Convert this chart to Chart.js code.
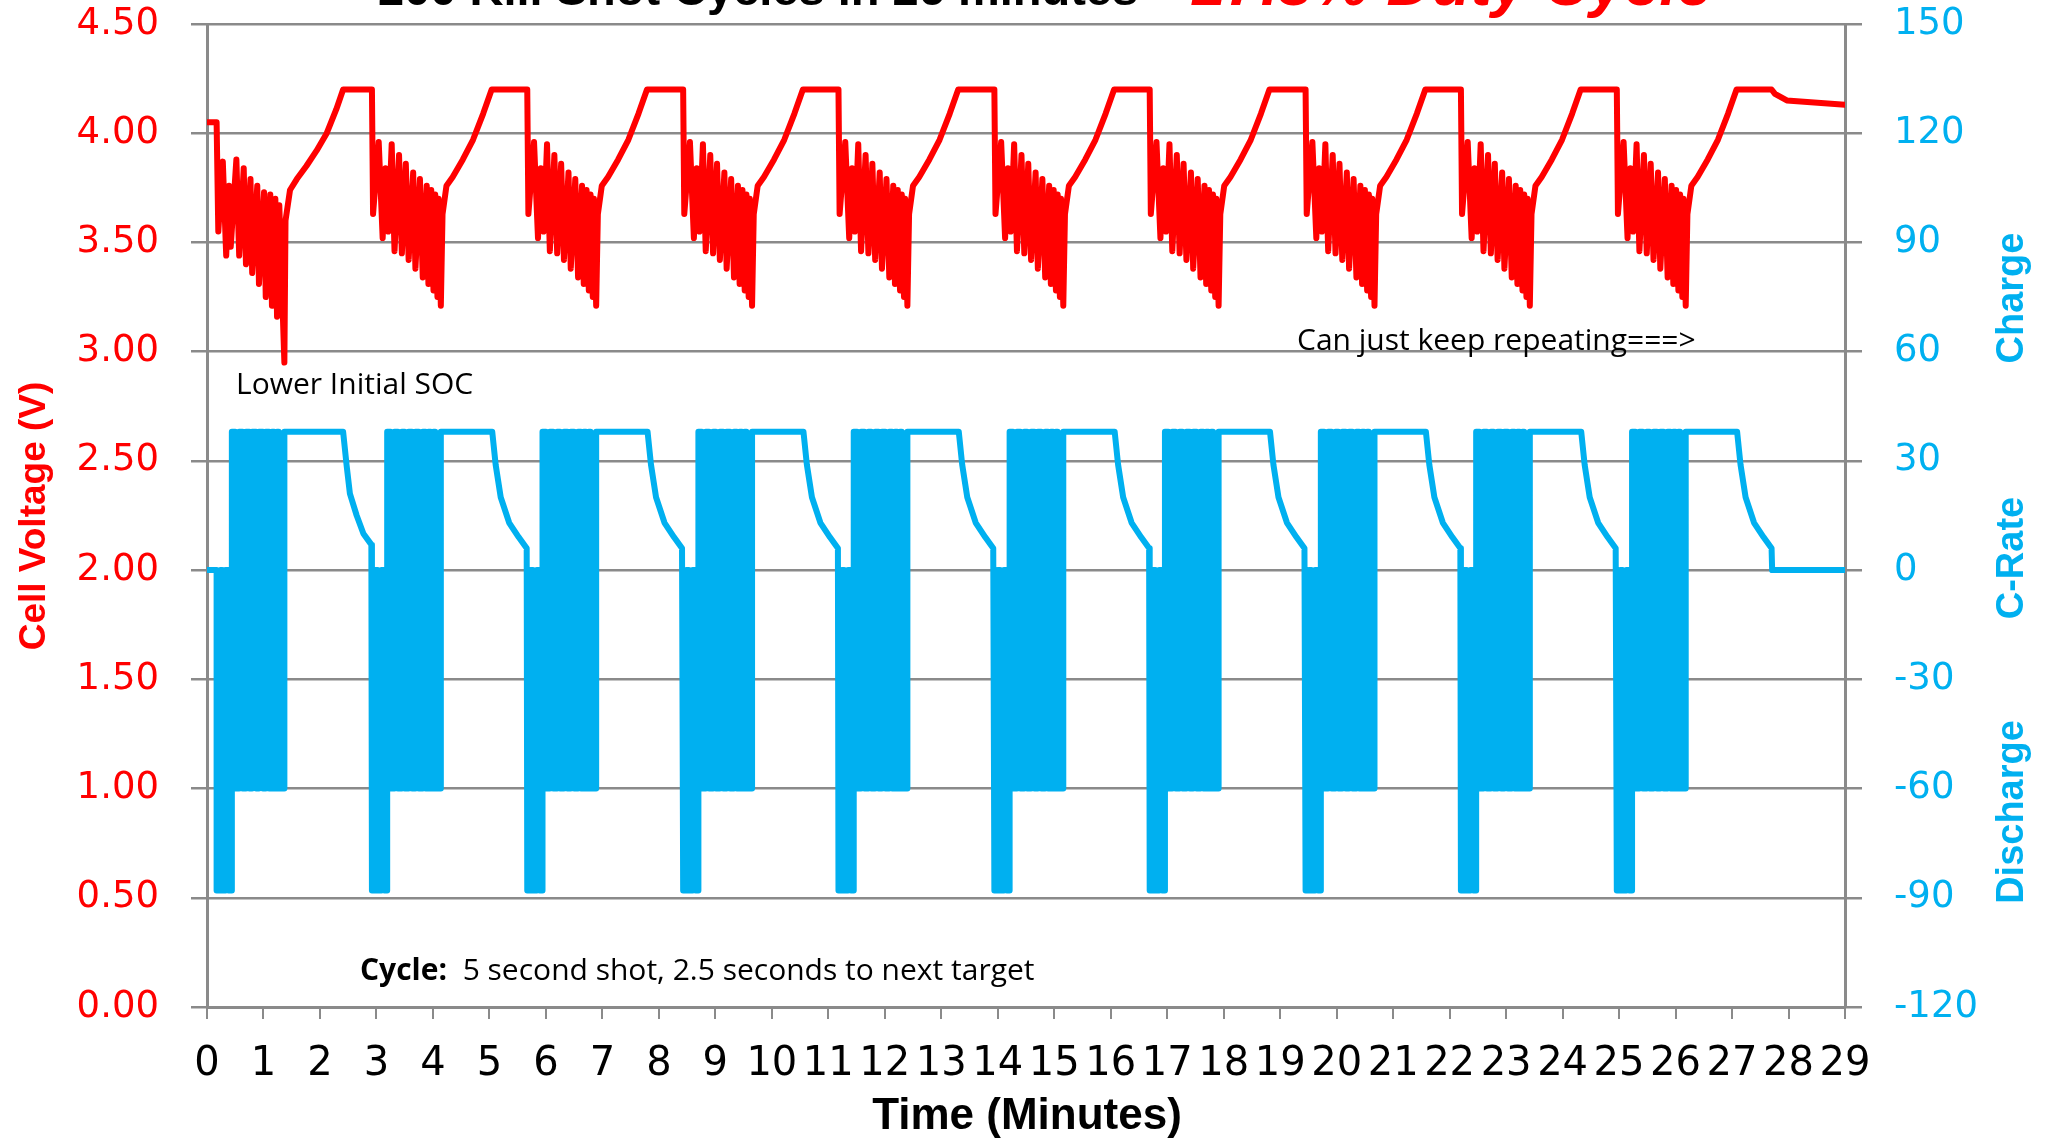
<!DOCTYPE html>
<html lang="en">
<head>
  <meta charset="UTF-8" />
  <title>Kill Shot Cycles</title>
  <script src="https://cdn.jsdelivr.net/npm/chart.js@4.4.0/dist/chart.umd.min.js"></script>
  <style>
    html, body { margin: 0; padding: 0; background: #fff; overflow: hidden; }
    canvas { display: block; }
  </style>
</head>
<body>
  <canvas id="cycleChart" width="2054" height="1139"></canvas>

  <script>
    // minute at which each discharge block starts (10 cycles)
    const cycleStart = [0.17, 2.92, 5.67, 8.43, 11.18, 13.94, 16.69, 19.45, 22.20, 24.96];

    // cell voltage, first cycle (lower initial SOC): [minutes after cycle start, volts]
    const voltsFirst = [
      [0.00, 4.05], [0.03, 3.55], [0.11, 3.87], [0.17, 3.44], [0.22, 3.76], [0.25, 3.48],
      [0.35, 3.88], [0.40, 3.44], [0.48, 3.84], [0.52, 3.40], [0.60, 3.79], [0.63, 3.36],
      [0.72, 3.76], [0.75, 3.31], [0.84, 3.73], [0.87, 3.25], [0.95, 3.72], [0.98, 3.21],
      [1.04, 3.70], [1.07, 3.16], [1.11, 3.67], [1.20, 2.95], [1.22, 3.60], [1.30, 3.74],
      [1.42, 3.79], [1.59, 3.85], [1.77, 3.92], [1.95, 4.00], [2.12, 4.11], [2.24, 4.20]
    ];
    // cell voltage, repeated cycles 2-10
    const voltsCycle = [
      [0.00, 4.20], [0.02, 3.63], [0.12, 3.96], [0.19, 3.52], [0.24, 3.84], [0.29, 3.55],
      [0.35, 3.95], [0.40, 3.46], [0.48, 3.90], [0.53, 3.45], [0.60, 3.86], [0.65, 3.42],
      [0.73, 3.82], [0.77, 3.38], [0.85, 3.79], [0.90, 3.34], [0.97, 3.76], [1.00, 3.31],
      [1.05, 3.74], [1.09, 3.28], [1.12, 3.72], [1.16, 3.25], [1.18, 3.70], [1.22, 3.21],
      [1.25, 3.63], [1.32, 3.76], [1.43, 3.80], [1.61, 3.88], [1.79, 3.97], [1.97, 4.09],
      [2.12, 4.20]
    ];
    // absolute minutes before the first cycle and after the last one
    const voltsLead = [[0.00, 4.05]];
    const voltsTail = [[27.70, 4.20], [27.76, 4.18], [27.97, 4.15], [29.00, 4.13]];

    // C-rate, first cycle: [minutes after cycle start, C-rate]
    const rateFirst = [
      [0.00, -88], [0.07, -88], [0.07, 0], [0.10, 0], [0.10, -88], [0.16, -88], [0.16, 0],
      [0.21, 0], [0.21, -88], [0.27, -88], [0.27, 38], [0.33, 38], [0.33, -60], [0.40, -60],
      [0.40, 38], [0.46, 38], [0.46, -60], [0.52, -60], [0.52, 38], [0.58, 38], [0.58, -60],
      [0.63, -60], [0.63, 38], [0.70, 38], [0.70, -60], [0.75, -60], [0.75, 38], [0.82, 38],
      [0.82, -60], [0.87, -60], [0.87, 38], [0.93, 38], [0.93, -60], [0.98, -60], [0.98, 38],
      [1.02, 38], [1.02, -60], [1.07, -60], [1.07, 38], [1.10, 38], [1.10, -60], [1.20, -60],
      [1.20, 38], [2.24, 38], [2.30, 29], [2.36, 21], [2.48, 15], [2.60, 10], [2.74, 7]
    ];
    // C-rate, repeated cycles 2-10
    const rateCycle = [
      [0.00, -88], [0.06, -88], [0.06, 0], [0.10, 0], [0.10, -88], [0.17, -88], [0.17, 0],
      [0.22, 0], [0.22, -88], [0.27, -88], [0.27, 38], [0.33, 38], [0.33, -60], [0.40, -60],
      [0.40, 38], [0.46, 38], [0.46, -60], [0.53, -60], [0.53, 38], [0.58, 38], [0.58, -60],
      [0.65, -60], [0.65, 38], [0.71, 38], [0.71, -60], [0.77, -60], [0.77, 38], [0.83, 38],
      [0.83, -60], [0.90, -60], [0.90, 38], [0.95, 38], [0.95, -60], [1.00, -60], [1.00, 38],
      [1.04, 38], [1.04, -60], [1.09, -60], [1.09, 38], [1.12, 38], [1.12, -60], [1.22, -60],
      [1.22, 38], [2.13, 38], [2.19, 29], [2.28, 20], [2.43, 13], [2.60, 9], [2.74, 6]
    ];
    const rateLead = [[0.00, 0], [0.17, 0]];
    const rateTail = [[27.71, 0], [29.00, 0]];

    const title = '200 Kill Shot Cycles in 26 minutes – ';
    const titleRed = '17.3% Duty Cycle';

    function buildSeries(lead, first, cycle, tail) {
      const pts = lead.map(([t, v]) => ({ x: t, y: v }));
      cycleStart.forEach((start, i) => {
        (i === 0 ? first : cycle).forEach(([t, v]) => pts.push({ x: start + t, y: v }));
      });
      tail.forEach(([t, v]) => pts.push({ x: t, y: v }));
      return pts;
    }

    const voltage = buildSeries(voltsLead, voltsFirst, voltsCycle, voltsTail);
    const cRate = buildSeries(rateLead, rateFirst, rateCycle, rateTail);

    const RED = '#ff0000';
    const BLUE = '#00b0f0';
    const GRID = '#8a8a8a';

    function rotated(ctx, text, x, y, font, color) {
      ctx.save();
      ctx.translate(x, y);
      ctx.rotate(-Math.PI / 2);
      ctx.font = font;
      ctx.fillStyle = color;
      ctx.textAlign = 'center';
      ctx.textBaseline = 'middle';
      ctx.fillText(text, 0, 0);
      ctx.restore();
    }

    // titles and notes drawn on top of the chart
    const textLayer = {
      id: 'textLayer',
      afterDraw(chart) {
        const ctx = chart.ctx;
        ctx.save();
        ctx.textBaseline = 'alphabetic';
        ctx.textAlign = 'left';

        // chart title (cut by the top edge like the original)
        ctx.font = 'bold 47px "Liberation Sans"';
        ctx.fillStyle = '#000';
        ctx.fillText(title, 378, 5);
        const w = ctx.measureText(title).width;
        ctx.font = 'italic bold 63px "Liberation Sans"';
        ctx.fillStyle = RED;
        ctx.fillText(titleRed, 378 + w, 5);

        // axis titles
        rotated(ctx, 'Cell Voltage (V)', 35, 516, 'bold 37px "Liberation Sans"', RED);
        rotated(ctx, 'Charge', 2013, 298, 'bold 38px "Liberation Sans"', BLUE);
        rotated(ctx, 'C-Rate', 2013, 558, 'bold 38px "Liberation Sans"', BLUE);
        rotated(ctx, 'Discharge', 2013, 812, 'bold 38px "Liberation Sans"', BLUE);

        ctx.textBaseline = 'middle';
        ctx.fillStyle = '#000';
        ctx.font = 'bold 44px "Liberation Sans"';
        ctx.textAlign = 'center';
        ctx.fillText('Time (Minutes)', 1027, 1117);

        // notes
        ctx.textAlign = 'left';
        ctx.font = '30px "Open Sans"';
        ctx.fillText('Lower Initial SOC', 236, 385);
        ctx.fillText('Can just keep repeating===>', 1297, 341);
        ctx.font = 'bold 30px "Open Sans"';
        ctx.fillText('Cycle:', 360, 971);
        const cw = ctx.measureText('Cycle:  ').width;
        ctx.font = '30px "Open Sans"';
        ctx.fillText('5 second shot, 2.5 seconds to next target', 360 + cw, 971);
        ctx.restore();
      }
    };

    // keep the plot box where the original has it
    function sideWidth(px) {
      return s => { s.width = px; s.paddingTop = 0; s.paddingBottom = 0; };
    }

    const ctx = document.getElementById('cycleChart').getContext('2d');
    new Chart(ctx, {
      type: 'line',
      data: {
        datasets: [
          {
            label: 'Cell Voltage (V)',
            data: voltage,
            yAxisID: 'y',
            borderColor: RED,
            borderWidth: 6,
            pointRadius: 0,
            borderJoinStyle: 'round',
            borderCapStyle: 'round',
            tension: 0,
            fill: false
          },
          {
            label: 'C-Rate',
            data: cRate,
            yAxisID: 'y1',
            borderColor: BLUE,
            borderWidth: 6,
            pointRadius: 0,
            borderJoinStyle: 'round',
            borderCapStyle: 'round',
            tension: 0,
            fill: false
          }
        ]
      },
      options: {
        responsive: false,
        animation: false,
        layout: { padding: { top: 24, left: 0, right: 0, bottom: 0 } },
        plugins: {
          legend: { display: false },
          tooltip: { enabled: false }
        },
        scales: {
          x: {
            type: 'linear',
            min: 0,
            max: 29,
            afterFit: s => { s.height = 132; s.paddingLeft = 0; s.paddingRight = 0; },
            grid: { drawOnChartArea: false, drawTicks: true, tickLength: 12, color: GRID, lineWidth: 2 },
            border: { display: true, color: GRID, width: 3 },
            ticks: {
              stepSize: 1,
              autoSkip: false,
              maxRotation: 0,
              padding: 22,
              color: '#000',
              font: { family: 'DejaVu Sans', size: 40 }
            }
          },
          y: {
            position: 'left',
            min: 0,
            max: 4.5,
            afterFit: sideWidth(207),
            grid: { color: GRID, lineWidth: 2.5, tickLength: 16 },
            border: { display: true, color: GRID, width: 3 },
            ticks: {
              stepSize: 0.5,
              padding: 32,
              color: RED,
              font: { family: 'DejaVu Sans', size: 37 },
              callback: v => v.toFixed(2)
            }
          },
          y1: {
            position: 'right',
            min: -120,
            max: 150,
            afterFit: sideWidth(209),
            grid: { drawOnChartArea: false, color: GRID, lineWidth: 2.5, tickLength: 17 },
            border: { display: true, color: GRID, width: 3 },
            ticks: {
              stepSize: 30,
              padding: 32,
              color: BLUE,
              font: { family: 'DejaVu Sans', size: 37 }
            }
          }
        }
      },
      plugins: [textLayer]
    });
  </script>
</body>
</html>
